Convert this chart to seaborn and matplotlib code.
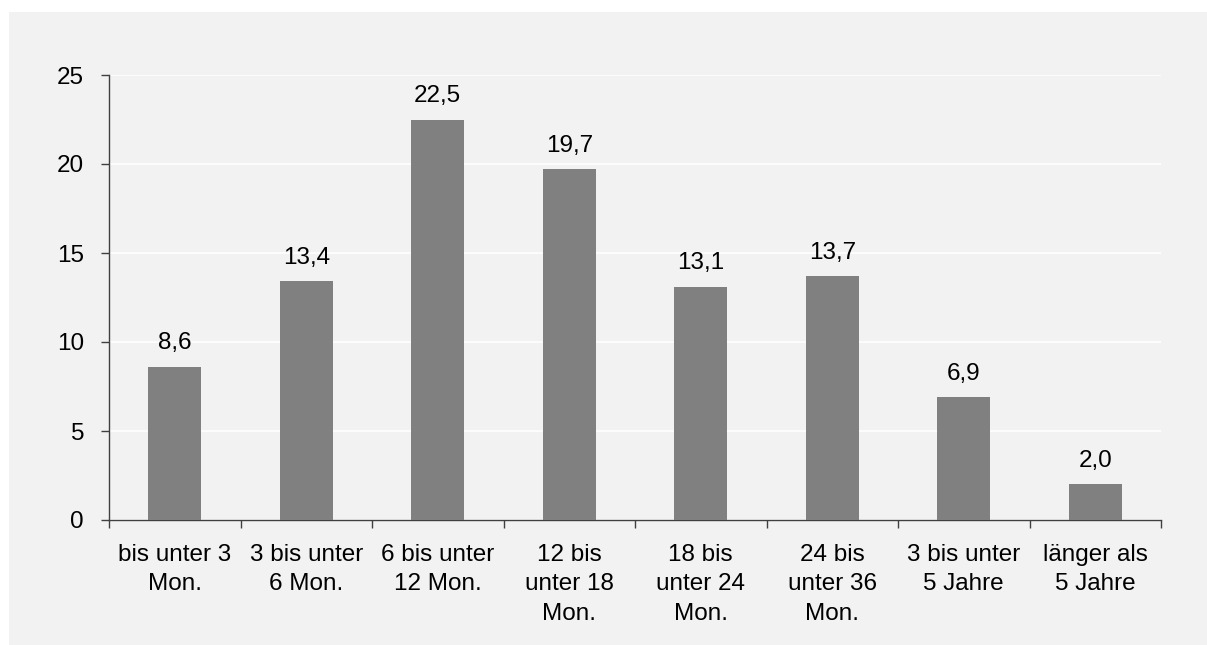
import pandas as pd
import matplotlib.pyplot as plt
import seaborn as sns
from matplotlib.patches import Rectangle

# ================== DADOS ================== #
kategorien = [
    "bis unter 3\nMon.",
    "3 bis unter\n6 Mon.",
    "6 bis unter\n12 Mon.",
    "12 bis\nunter 18\nMon.",
    "18 bis\nunter 24\nMon.",
    "24 bis\nunter 36\nMon.",
    "3 bis unter\n5 Jahre",
    "länger als\n5 Jahre",
]
anteile = [8.6, 13.4, 22.5, 19.7, 13.1, 13.7, 6.9, 2.0]

df = pd.DataFrame({"kategorie": kategorien, "anteil": anteile})

# ================== FIGURA ================== #
sns.set_style("white")
plt.rcParams["font.family"] = ["Liberation Sans", "DejaVu Sans"]
plt.rcParams["text.color"] = "black"

fig = plt.figure(figsize=(12.07, 6.45), dpi=100, facecolor="white")
# painel cinza de fundo
fig.patches.append(Rectangle((9 / 1207, 0), 1, 1 - 12 / 645, transform=fig.transFigure,
                             facecolor="#f2f2f2", edgecolor="none", zorder=-5))

ax = fig.add_axes([109 / 1207, 1 - 520 / 645, (1161 - 109) / 1207, (520 - 75) / 645])
ax.set_facecolor("#f2f2f2")

sns.barplot(data=df, x="kategorie", y="anteil", color="#808080", width=0.4,
            saturation=1, errorbar=None, linewidth=0, ax=ax, zorder=3)

# rótulos dos valores
for i, v in enumerate(anteile):
    ax.annotate(f"{v:.1f}".replace(".", ","), (i, v), xytext=(0, 9),
                textcoords="offset points", ha="center", va="bottom",
                fontsize=17.5, color="black")

ax.set_ylim(0, 25)
ax.set_xlim(-0.5, len(kategorien) - 0.5)
ax.set_yticks(range(0, 26, 5))
ax.yaxis.grid(True, color="white", linewidth=1.2, zorder=0)
ax.set_axisbelow(True)

# ticks nas fronteiras das categorias
ax.set_xticks([i - 0.5 for i in range(len(kategorien) + 1)], minor=True)
ax.tick_params(axis="x", which="major", length=0, pad=17, labelsize=17.5, labelcolor="black")
ax.tick_params(axis="x", which="minor", length=6, width=1, color="#404040", direction="out")
ax.tick_params(axis="y", length=6, width=1, color="#404040", direction="out",
               labelsize=17.5, labelcolor="black", pad=12)
plt.setp(ax.get_xticklabels(), linespacing=1.45)
ax.xaxis.set_ticks_position("bottom")
ax.yaxis.set_ticks_position("left")

for s in ["top", "right"]:
    ax.spines[s].set_visible(False)
for s in ["left", "bottom"]:
    ax.spines[s].set_color("#404040")
    ax.spines[s].set_linewidth(1)

ax.set_xlabel("")
ax.set_ylabel("")

fig.savefig("out.png", dpi=100, facecolor=fig.get_facecolor())
